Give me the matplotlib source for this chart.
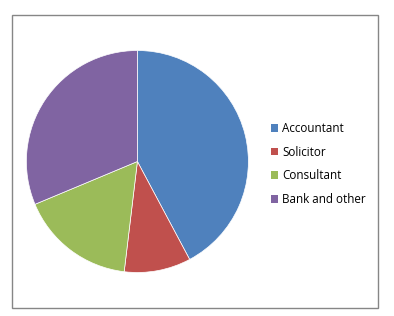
import matplotlib.pyplot as plt
from matplotlib.patches import Rectangle

# data
labels = ['Accountant', 'Solicitor', 'Consultant', 'Bank and other']
shares = [42.2, 9.7, 16.8, 31.3]
colors = ['#4F81BD', '#C0504D', '#9BBB59', '#8064A2']

W, H = 394, 316
fig = plt.figure(figsize=(W / 100, H / 100), dpi=100)
plt.rcParams['font.family'] = ['Open Sans', 'DejaVu Sans']

# chart frame
fig.patches.append(Rectangle((12 / W, 1 - 308 / H), 366 / W, 293 / H,
                             transform=fig.transFigure, fill=False,
                             edgecolor='#868686', linewidth=1))

# pie centred at (137.4, 161.5) px with radius 111 px
cx, cy, r = 137.4, 161.5, 111
ax = fig.add_axes([(cx - r) / W, 1 - (cy + r) / H, 2 * r / W, 2 * r / H])
wedges, _ = ax.pie(shares, colors=colors, startangle=90, counterclock=False,
                   radius=1, wedgeprops=dict(edgecolor='white', linewidth=0.5))
ax.set_xlim(-1, 1)
ax.set_ylim(-1, 1)
ax.set_aspect('auto')
ax.axis('off')

leg = fig.legend(wedges, labels, loc='upper left',
                 bbox_to_anchor=(265 / W, 1 - 116 / H), frameon=False,
                 fontsize=8.4, handlelength=0.65, handleheight=0.65,
                 handletextpad=0.3, labelspacing=0.92, borderpad=0)
for h in leg.legend_handles:
    h.set_edgecolor('none')

fig.savefig('out.png', dpi=100)
